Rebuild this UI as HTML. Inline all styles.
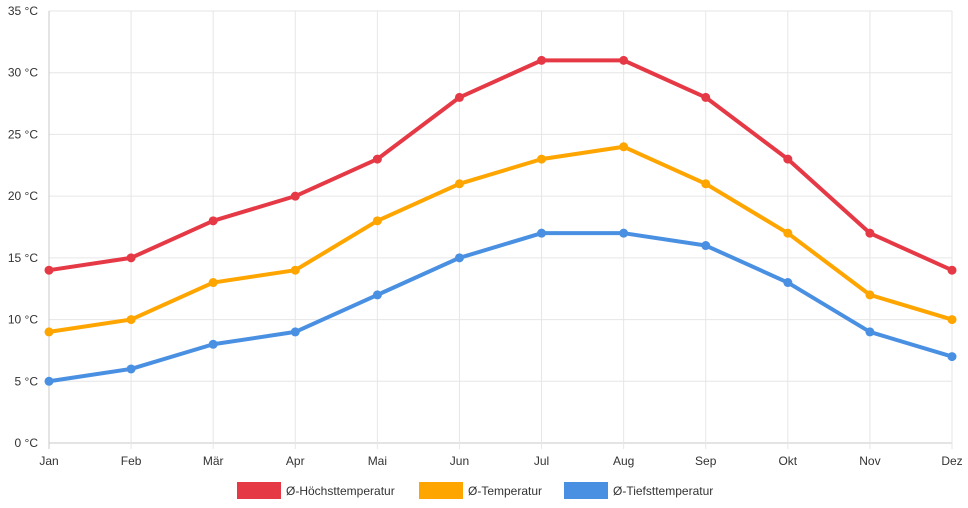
<!DOCTYPE html>
<html><head><meta charset="utf-8"><style>
html,body{margin:0;padding:0;background:#fff;}
svg{display:block;font-family:"Liberation Sans",sans-serif;}
</style></head><body>
<svg id="chart" width="968" height="508"></svg>
<script>
const months=["Jan","Feb","Mär","Apr","Mai","Jun","Jul","Aug","Sep","Okt","Nov","Dez"];
const highTemps=[14,15,18,20,23,28,31,31,28,23,17,14];
const avgTemps=[9,10,13,14,18,21,23,24,21,17,12,10];
const lowTemps=[5,6,8,9,12,15,17,17,16,13,9,7];
const yTicks=[0,5,10,15,20,25,30,35];
const seriesNames=["Ø-Höchsttemperatur","Ø-Temperatur","Ø-Tiefsttemperatur"];
const NS="http://www.w3.org/2000/svg";
const svg=document.getElementById('chart');
const x0=49,x1=952,y0=443,y1=11;
const xs=i=>x0+i*(x1-x0)/(months.length-1);
const ys=v=>y0-(v/35)*(y0-y1);
function mk(t,a){const e=document.createElementNS(NS,t);for(const k in a)e.setAttribute(k,a[k]);svg.appendChild(e);return e;}
yTicks.forEach(v=>{
  const g=mk('line',{x1:x0,x2:x1,y1:ys(v),y2:ys(v),stroke:v===0?'#c8c8c8':'#e6e6e6','stroke-width':1});
  
  
  const t=mk('text',{x:38,y:ys(v)+4,'text-anchor':'end','font-size':12,fill:'#333'});
  t.textContent=v+' °C';
  
  
});
months.forEach((m,i)=>{
  const g=mk('line',{x1:xs(i),x2:xs(i),y1:y1,y2:y0+6,stroke:i===0?'#c8c8c8':'#e6e6e6','stroke-width':1});
  
  
  const t=mk('text',{x:xs(i),y:465,'text-anchor':'middle','font-size':12,fill:'#333'});
  t.textContent=m;
  
  
});
const series=[[highTemps,'#e63946'],[avgTemps,'#ffa500'],[lowTemps,'#4a90e2']];
series.forEach(([d,c],si)=>{
  const p=mk('polyline',{points:d.map((v,i)=>xs(i)+','+ys(v)).join(' '),fill:'none',stroke:c,'stroke-width':4,'stroke-linejoin':'round'});
  
  
  d.forEach((v,i)=>{
    const pt=mk('circle',{cx:xs(i),cy:ys(v),r:4.5,fill:c});
    
    
  });
});
const legX=[237,419,564];
seriesNames.forEach((n,i)=>{
  const r=mk('rect',{x:legX[i],y:482,width:44,height:17,fill:series[i][1]});
  
  
  const t=mk('text',{x:legX[i]+49,y:495,'font-size':12,fill:'#333'});
  t.textContent=n;
  
  
});
</script>
</body></html>
